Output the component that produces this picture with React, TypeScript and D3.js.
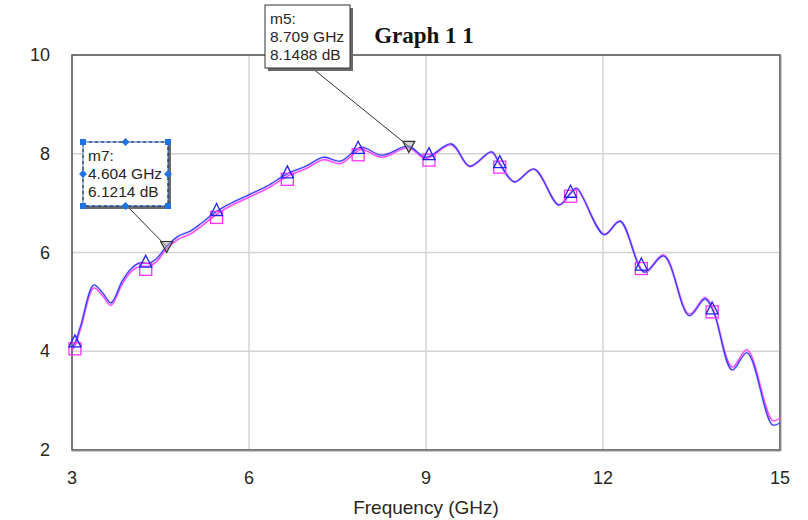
import * as d3 from "d3";

// frequency samples (GHz)
const freq = [3.0, 3.05, 3.15, 3.37, 3.52, 3.66, 3.85, 4.0, 4.15, 4.3, 4.43, 4.6, 4.8, 5.0, 5.2, 5.46, 5.7, 6.0, 6.3, 6.66, 6.97, 7.26, 7.55, 7.9, 8.25, 8.7, 9.0, 9.43, 9.74, 10.11, 10.25, 10.5, 10.83, 11.25, 11.45, 11.55, 12.02, 12.29, 12.7, 13.03, 13.46, 13.73, 13.88, 14.19, 14.44, 14.87, 15.0];
// blue trace (triangles), dB
const blueDb = [4.08, 4.17, 4.53, 5.34, 5.18, 4.98, 5.42, 5.67, 5.79, 5.78, 5.87, 6.12, 6.33, 6.43, 6.6, 6.84, 7.0, 7.17, 7.34, 7.6, 7.75, 7.93, 7.85, 8.13, 7.97, 8.15, 7.93, 8.2, 7.75, 8.04, 7.8, 7.43, 7.69, 6.96, 7.2, 7.3, 6.36, 6.63, 5.6, 5.93, 4.72, 5.06, 4.78, 3.62, 3.97, 2.51, 2.55];
// magenta trace (squares), dB
const magentaDb = [4.02, 4.11, 4.47, 5.28, 5.12, 4.93, 5.36, 5.61, 5.72, 5.72, 5.81, 6.07, 6.27, 6.37, 6.54, 6.78, 6.95, 7.12, 7.29, 7.55, 7.7, 7.88, 7.8, 8.08, 7.93, 8.12, 7.9, 8.18, 7.74, 8.03, 7.79, 7.43, 7.69, 6.97, 7.2, 7.3, 6.37, 6.64, 5.61, 5.95, 4.75, 5.09, 4.8, 3.68, 4.03, 2.6, 2.64];
// symbol positions along the traces
const symbolFreqs = [3.05, 4.25, 5.45, 6.65, 7.85, 9.05, 10.25, 11.45, 12.65, 13.85];
const xTicks = [3, 6, 9, 12, 15];
const yTicks = [2, 4, 6, 8, 10];
// marker readouts
const markerNames = ["m7", "m5"];
const markerFreqs = [4.604, 8.709];
const markerDb = [6.1214, 8.1488];

const W = 808;
const H = 520;
const margin = { top: 55, right: 28, bottom: 70, left: 72 };

const App = () => {
  const x = d3.scaleLinear().domain([3, 15]).range([margin.left, W - margin.right]);
  const y = d3.scaleLinear().domain([2, 10]).range([H - margin.bottom, margin.top]);

  const pts = (vals: number[]) => freq.map((f, i) => [f, vals[i]] as [number, number]);
  const line = d3
    .line<[number, number]>()
    .x((d) => x(d[0]))
    .y((d) => y(d[1]))
    .curve(d3.curveCatmullRom.alpha(0.5));

  const blueAt = d3.scaleLinear().domain(freq).range(blueDb);
  const magAt = d3.scaleLinear().domain(freq).range(magentaDb);

  const font = "'Liberation Sans', Arial, sans-serif";
  const txt = "#2a2622";

  // marker boxes (layout only)
  const boxes = [
    { x0: 83, y0: 142, w: 85, h: 64, selected: true, anchorX: 127 },
    { x0: 265, y0: 5, w: 85, h: 63, selected: false, anchorX: 312 },
  ];

  return (
    <svg width={W} height={H} style={{ position: "absolute", left: 0, top: 0, background: "#fff" }}>
      {/* grid */}
      {xTicks.map((t) => (
        <line key={"gx" + t} x1={x(t)} x2={x(t)} y1={y(2)} y2={y(10)} stroke="#d4d4d4" strokeWidth={1.5} />
      ))}
      {yTicks.map((t) => (
        <line key={"gy" + t} x1={x(3)} x2={x(15)} y1={y(t)} y2={y(t)} stroke="#d4d4d4" strokeWidth={1.5} />
      ))}
      {/* frame */}
      <rect x={x(3)} y={y(10)} width={x(15) - x(3)} height={y(2) - y(10)} fill="none" stroke="#555" strokeWidth={1.5} />
      <line x1={x(15) + 1} x2={x(15) + 1} y1={y(10)} y2={y(2) + 1} stroke="#999" strokeWidth={1} />
      <line x1={x(3)} x2={x(15) + 1} y1={y(2) + 1} y2={y(2) + 1} stroke="#999" strokeWidth={1} />

      {/* tick labels */}
      {xTicks.map((t) => (
        <text key={"tx" + t} x={x(t)} y={y(2) + 34} textAnchor="middle" fontFamily={font} fontSize={18} fill={txt}>
          {t}
        </text>
      ))}
      {yTicks.map((t) => (
        <text key={"ty" + t} x={50} y={y(t) + 6} textAnchor="end" fontFamily={font} fontSize={18} fill={txt}>
          {t}
        </text>
      ))}
      <text x={(x(3) + x(15)) / 2} y={514} textAnchor="middle" fontFamily={font} fontSize={19} fill={txt}>
        Frequency (GHz)
      </text>
      <text x={424} y={43} textAnchor="middle" fontFamily="'Liberation Serif', 'Times New Roman', serif" fontWeight="bold" fontSize={23} fill="#111">
        Graph 1 1
      </text>

      {/* traces */}
      <path d={line(pts(magentaDb)) || ""} fill="none" stroke="#ff80ff" strokeOpacity={0.35} strokeWidth={2.6} />
      <path d={line(pts(magentaDb)) || ""} fill="none" stroke="#ff33ff" strokeWidth={1.1} />
      <path d={line(pts(blueDb)) || ""} fill="none" stroke="#8080ff" strokeOpacity={0.35} strokeWidth={2.6} />
      <path d={line(pts(blueDb)) || ""} fill="none" stroke="#3333ff" strokeWidth={1.1} />

      {/* symbols */}
      {symbolFreqs.map((f) => {
        const px = x(f);
        const py = y(magAt(f));
        return <rect key={"sq" + f} x={px - 6} y={py - 3} width={12} height={12} fill="none" stroke="#ff33ff" strokeWidth={1.3} />;
      })}
      {symbolFreqs.map((f) => {
        const px = x(f);
        const py = y(blueAt(f));
        return (
          <path
            key={"tr" + f}
            d={`M${px},${py - 8}L${px + 6},${py + 4}L${px - 6},${py + 4}Z`}
            fill="none"
            stroke="#2222ee"
            strokeWidth={1.3}
          />
        );
      })}

      {/* marker readouts */}
      {markerNames.map((name, i) => {
        const b = boxes[i];
        const mx = x(markerFreqs[i]);
        const my = y(markerDb[i]);
        const lines = [name + ":", markerFreqs[i].toFixed(3) + " GHz", markerDb[i].toFixed(4) + " dB"];
        const handles = [
          [b.x0, b.y0, "sq"], [b.x0 + b.w / 2, b.y0, "dm"], [b.x0 + b.w, b.y0, "sq"],
          [b.x0, b.y0 + b.h / 2, "dm"], [b.x0 + b.w, b.y0 + b.h / 2, "dm"],
          [b.x0, b.y0 + b.h, "sq"], [b.x0 + b.w / 2, b.y0 + b.h, "dm"], [b.x0 + b.w, b.y0 + b.h, "sq"],
        ] as [number, number, string][];
        return (
          <g key={name}>
            <line x1={b.anchorX} y1={b.y0 + b.h} x2={mx} y2={my} stroke="#333" strokeWidth={1} />
            <path
              d={`M${mx - 6},${my - 5}L${mx + 6},${my - 5}L${mx},${my + 6}Z`}
              fill="#aaa"
              fillOpacity={0.5}
              stroke="#333"
              strokeWidth={1.2}
            />
            <rect x={b.x0 + 3} y={b.y0 + 3} width={b.w} height={b.h} fill="#6a6a6a" />
            <rect x={b.x0} y={b.y0} width={b.w} height={b.h} fill="#fff" stroke={b.selected ? "#2a6fd6" : "#333"} strokeWidth={1} />
            {b.selected && (
              <rect x={b.x0} y={b.y0} width={b.w} height={b.h} fill="none" stroke="#222" strokeWidth={1} strokeDasharray="3,3" />
            )}
            {b.selected &&
              handles.map(([hx, hy, k], j) =>
                k === "sq" ? (
                  <rect key={j} x={hx - 3} y={hy - 3} width={6} height={6} fill="#1f73e0" />
                ) : (
                  <path key={j} d={`M${hx},${hy - 4}L${hx + 4},${hy}L${hx},${hy + 4}L${hx - 4},${hy}Z`} fill="#1f73e0" />
                )
              )}
            {lines.map((s, j) => (
              <text key={j} x={b.x0 + 5} y={b.y0 + 19 + j * 18} fontFamily={font} fontSize={15.5} fill={txt}>
                {s}
              </text>
            ))}
          </g>
        );
      })}
    </svg>
  );
};

export default App;
